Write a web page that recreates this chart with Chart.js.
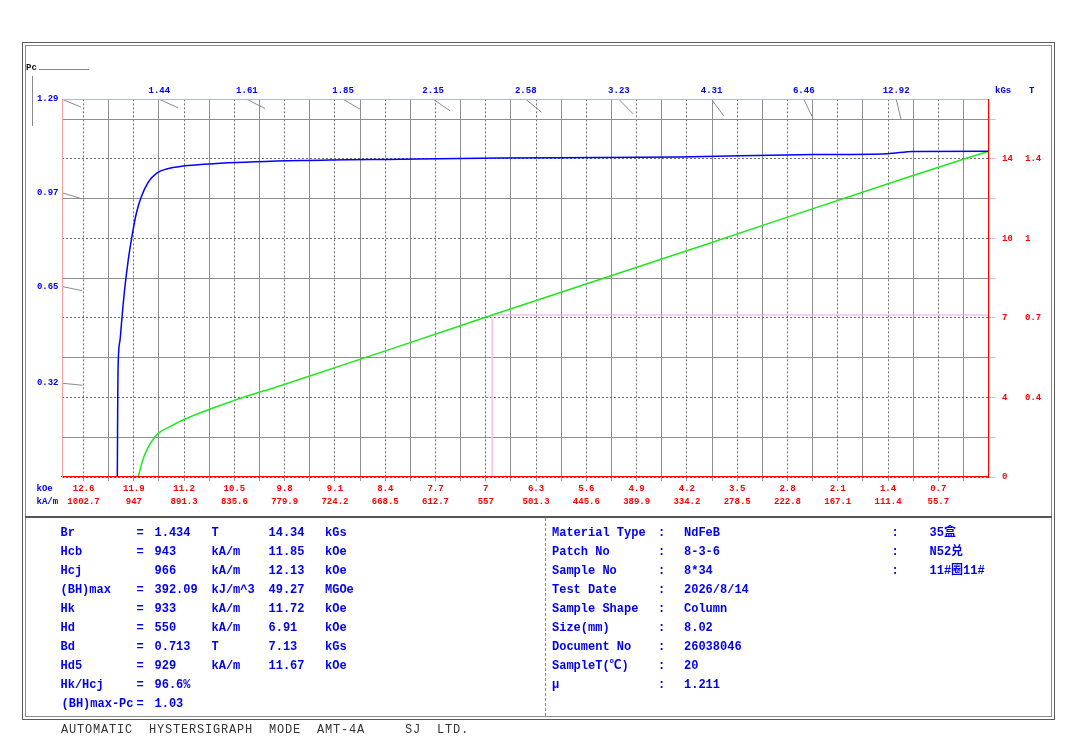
<!DOCTYPE html>
<html><head><meta charset="utf-8">
<script src="https://cdn.jsdelivr.net/npm/chart.js@4.4.1/dist/chart.umd.min.js"></script>
<style>
html,body{margin:0;padding:0;background:#fff;}
#wrap{position:relative;width:1084px;height:739px;overflow:hidden;background:#fff;}
#c{position:absolute;left:0;top:0;}
.t{position:absolute;font-family:"Liberation Mono","Noto Sans CJK SC",monospace;font-weight:bold;font-size:12px;color:#0000f0;white-space:pre;line-height:14px;height:14px;}
.s{position:absolute;font-family:"Liberation Mono",monospace;font-weight:bold;font-size:9px;white-space:pre;line-height:11px;}
.ln{position:absolute;}
</style></head><body>
<div id="wrap">
  <canvas id="c" width="1084" height="739"></canvas>
  <!-- frame -->
  <div class="ln" style="left:22px;top:42px;width:1031px;height:676px;border:1px solid #5a5a5a"></div>
  <div class="ln" style="left:25px;top:45px;width:1025px;height:670px;border:1px solid #8a8a8a"></div>
  <div class="ln" style="left:25px;top:515.5px;width:1027px;height:2px;background:#555"></div>
  <div class="ln" style="left:544.5px;top:518px;width:0;height:198px;border-left:1px dashed #888"></div>
  <!-- Pc header -->
  <div class="s" style="left:26px;top:62.5px;color:#111">Pc</div>
  <div class="ln" style="left:39px;top:69px;width:50px;height:1px;background:#888"></div>
  <div class="ln" style="left:32px;top:76px;width:1px;height:50px;background:#888"></div>
  <!-- axis unit labels -->
  <div class="s" style="left:36.5px;top:483.5px;color:#0000f0">kOe</div>
  <div class="s" style="left:36.5px;top:496.5px;color:#0000f0">kA/m</div>
  <div class="s" style="left:995px;top:85.5px;color:#0000f0">kGs</div>
  <div class="s" style="left:1029px;top:85.5px;color:#0000f0">T</div>

  <!-- left table -->
  <div class="t" style="left:60.5px;top:526px">Br</div>
  <div class="t" style="left:136.4px;top:526px">=</div>
  <div class="t" style="left:154.5px;top:526px">1.434</div>
  <div class="t" style="left:211.5px;top:526px">T</div>
  <div class="t" style="left:268.5px;top:526px">14.34</div>
  <div class="t" style="left:325px;top:526px">kGs</div>

  <div class="t" style="left:60.5px;top:545px">Hcb</div>
  <div class="t" style="left:136.4px;top:545px">=</div>
  <div class="t" style="left:154.5px;top:545px">943</div>
  <div class="t" style="left:211.5px;top:545px">kA/m</div>
  <div class="t" style="left:268.5px;top:545px">11.85</div>
  <div class="t" style="left:325px;top:545px">kOe</div>

  <div class="t" style="left:60.5px;top:564px">Hcj</div>
  <div class="t" style="left:154.5px;top:564px">966</div>
  <div class="t" style="left:211.5px;top:564px">kA/m</div>
  <div class="t" style="left:268.5px;top:564px">12.13</div>
  <div class="t" style="left:325px;top:564px">kOe</div>

  <div class="t" style="left:60.5px;top:583px">(BH)max</div>
  <div class="t" style="left:136.4px;top:583px">=</div>
  <div class="t" style="left:154.5px;top:583px">392.09</div>
  <div class="t" style="left:211.5px;top:583px">kJ/m^3</div>
  <div class="t" style="left:268.5px;top:583px">49.27</div>
  <div class="t" style="left:325px;top:583px">MGOe</div>

  <div class="t" style="left:60.5px;top:602px">Hk</div>
  <div class="t" style="left:136.4px;top:602px">=</div>
  <div class="t" style="left:154.5px;top:602px">933</div>
  <div class="t" style="left:211.5px;top:602px">kA/m</div>
  <div class="t" style="left:268.5px;top:602px">11.72</div>
  <div class="t" style="left:325px;top:602px">kOe</div>

  <div class="t" style="left:60.5px;top:621px">Hd</div>
  <div class="t" style="left:136.4px;top:621px">=</div>
  <div class="t" style="left:154.5px;top:621px">550</div>
  <div class="t" style="left:211.5px;top:621px">kA/m</div>
  <div class="t" style="left:268.5px;top:621px">6.91</div>
  <div class="t" style="left:325px;top:621px">kOe</div>

  <div class="t" style="left:60.5px;top:640px">Bd</div>
  <div class="t" style="left:136.4px;top:640px">=</div>
  <div class="t" style="left:154.5px;top:640px">0.713</div>
  <div class="t" style="left:211.5px;top:640px">T</div>
  <div class="t" style="left:268.5px;top:640px">7.13</div>
  <div class="t" style="left:325px;top:640px">kGs</div>

  <div class="t" style="left:60.5px;top:659px">Hd5</div>
  <div class="t" style="left:136.4px;top:659px">=</div>
  <div class="t" style="left:154.5px;top:659px">929</div>
  <div class="t" style="left:211.5px;top:659px">kA/m</div>
  <div class="t" style="left:268.5px;top:659px">11.67</div>
  <div class="t" style="left:325px;top:659px">kOe</div>

  <div class="t" style="left:60.5px;top:678px">Hk/Hcj</div>
  <div class="t" style="left:136.4px;top:678px">=</div>
  <div class="t" style="left:154.5px;top:678px">96.6%</div>

  <div class="t" style="left:61.5px;top:697px">(BH)max-Pc</div>
  <div class="t" style="left:136.4px;top:697px">=</div>
  <div class="t" style="left:154.5px;top:697px">1.03</div>

  <!-- right table -->
  <div class="t" style="left:552px;top:526px">Material Type</div>
  <div class="t" style="left:658px;top:526px">:</div>
  <div class="t" style="left:684px;top:526px">NdFeB</div>
  <div class="t" style="left:891.5px;top:526px">:</div>
  <div class="t" style="left:929.5px;top:526px">35盒</div>

  <div class="t" style="left:552px;top:545px">Patch No</div>
  <div class="t" style="left:658px;top:545px">:</div>
  <div class="t" style="left:684px;top:545px">8-3-6</div>
  <div class="t" style="left:891.5px;top:545px">:</div>
  <div class="t" style="left:929.5px;top:545px">N52兑</div>

  <div class="t" style="left:552px;top:564px">Sample No</div>
  <div class="t" style="left:658px;top:564px">:</div>
  <div class="t" style="left:684px;top:564px">8*34</div>
  <div class="t" style="left:891.5px;top:564px">:</div>
  <div class="t" style="left:929.5px;top:564px">11#圈11#</div>

  <div class="t" style="left:552px;top:583px">Test Date</div>
  <div class="t" style="left:658px;top:583px">:</div>
  <div class="t" style="left:684px;top:583px">2026/8/14</div>

  <div class="t" style="left:552px;top:602px">Sample Shape</div>
  <div class="t" style="left:658px;top:602px">:</div>
  <div class="t" style="left:684px;top:602px">Column</div>

  <div class="t" style="left:552px;top:621px">Size(mm)</div>
  <div class="t" style="left:658px;top:621px">:</div>
  <div class="t" style="left:684px;top:621px">8.02</div>

  <div class="t" style="left:552px;top:640px">Document No</div>
  <div class="t" style="left:658px;top:640px">:</div>
  <div class="t" style="left:684px;top:640px">26038046</div>

  <div class="t" style="left:552px;top:659px">SampleT(℃)</div>
  <div class="t" style="left:658px;top:659px">:</div>
  <div class="t" style="left:684px;top:659px">20</div>

  <div class="t" style="left:552px;top:678px">μ</div>
  <div class="t" style="left:658px;top:678px">:</div>
  <div class="t" style="left:684px;top:678px">1.211</div>

  <!-- footer -->
  <div style="position:absolute;left:61px;top:723px;font-family:'Liberation Mono',monospace;font-size:12px;letter-spacing:0.8px;color:#333;white-space:pre;line-height:14px">AUTOMATIC  HYSTERSIGRAPH  MODE  AMT-4A     SJ  LTD.</div>
</div>
<script>
// ---------- data ----------
const kOeLabels = ['12.6','11.9','11.2','10.5','9.8','9.1','8.4','7.7','7','6.3','5.6','4.9','4.2','3.5','2.8','2.1','1.4','0.7'];
const kAmLabels = ['1002.7','947','891.3','835.6','779.9','724.2','668.5','612.7','557','501.3','445.6','389.9','334.2','278.5','222.8','167.1','111.4','55.7'];
const kGsTickValues = [0, 3.5, 7, 10.5, 14];
const kGsLabels = ['0','4','7','10','14'];
const teslaLabels = ['','0.4','0.7','1','1.4'];
const pcTopLabels = ['1.44','1.61','1.85','2.15','2.58','3.23','4.31','6.46','12.92'];
const pcLeftLabels = ['1.29','0.97','0.65','0.32'];

// intrinsic curve J(H)  (H kOe, J kGs)
const H_J = [12.13,12.124,12.12,12.092,12.068,12.029,11.978,11.925,11.864,11.797,11.699,11.581,11.442,11.212,10.976,10.70,9.58,8.19,6.80,5.41,4.30,2.44,1.41,1.05,0];
const B_J = [0,3.39,4.75,6.03,6.91,8.23,9.55,10.61,11.62,12.32,12.98,13.38,13.56,13.69,13.75,13.81,13.93,13.99,14.04,14.06,14.09,14.19,14.23,14.33,14.34];
// normal curve B(H)
const H_B = [11.84,11.76,11.67,11.56,11.39,11.21,10.51,9.86,8.19,6.91,4.00,1.19,0];
const B_B = [0,0.89,1.48,1.92,2.23,2.52,3.36,4.02,5.77,7.13,10.17,13.13,14.34];
// (BH)max working point Hd / Bd
const H_D = [6.91,6.91,0];
const B_D = [0,7.13,7.13];

const H_MAX = 12.9, B_MAX = 16.625;

const pts = (hs, bs) => hs.map((h,i)=>({x:h, y:bs[i]}));
const xMajor = kOeLabels.map(Number);
const xMinor = xMajor.map(v => +(v - 0.35).toFixed(2));
const yMinor = kGsTickValues.map(v => v + 1.75);
const near = (a,b) => Math.abs(a-b) < 1e-6;
const isXMajor = v => xMajor.some(m => near(m,v));
const isYMajor = v => kGsTickValues.some(m => near(m,v));

const FONT = '"Liberation Mono", monospace';
const BLUE = '#0000f0', RED = '#ff0000', PINK = '#f4a0a0';

const pcSegments = {
  id: 'pcSegments',
  afterDatasetsDraw(chart) {
    const {ctx} = chart; const sx = chart.scales.x, sy = chart.scales.y;
    const ox = sx.getPixelForValue(0), oy = sy.getPixelForValue(0);
    const p = [];
    pcTopLabels.forEach(v => p.push([sx.getPixelForValue(B_MAX/Number(v)), sy.getPixelForValue(B_MAX)]));
    pcLeftLabels.forEach(v => p.push([sx.getPixelForValue(H_MAX), sy.getPixelForValue(Math.min(B_MAX, Number(v)*H_MAX))]));
    ctx.save(); ctx.strokeStyle = '#8a8a8a'; ctx.lineWidth = 1;
    p.forEach(([px,py]) => {
      const dx = ox-px, dy = oy-py, L = Math.hypot(dx,dy);
      ctx.beginPath(); ctx.moveTo(px,py); ctx.lineTo(px+dx/L*20.5, py+dy/L*20.5); ctx.stroke();
    });
    ctx.restore();
  }
};

new Chart(document.getElementById('c'), {
  type: 'line',
  data: {
    datasets: [
      {label:'J', data: pts(H_J,B_J), borderColor:'#0000ff', borderWidth:1.5, pointRadius:0, cubicInterpolationMode:'monotone', xAxisID:'x', yAxisID:'y'},
      {label:'B', data: pts(H_B,B_B), borderColor:'#1ee81e', borderWidth:1.5, pointRadius:0, cubicInterpolationMode:'monotone', xAxisID:'x', yAxisID:'y'},
      {label:'Pd', data: pts(H_D,B_D), borderColor:'#eeaaee', borderWidth:1.5, pointRadius:0, tension:0, xAxisID:'x', yAxisID:'y',
        segment:{borderColor: c => c.p0DataIndex===0 ? '#f8c8f2' : '#e8a4ea', borderWidth: c => c.p0DataIndex===0 ? 2 : 1.2}}
    ]
  },
  options: {
    responsive:false, animation:false, events:[],
    layout:{padding:{left:22, top:79.3, right:41.4, bottom:232}},
    plugins:{legend:{display:false}, tooltip:{enabled:false}},
    scales: {
      x: {
        type:'linear', position:'bottom', reverse:true, min:0, max:H_MAX,
        afterBuildTicks: s => { s.ticks = xMajor.concat(xMinor).sort((a,b)=>b-a).map(v=>({value:v})); },
        afterFit: s => { s.height = 30; },
        ticks: {
          autoSkip:false, maxRotation:0, minRotation:0, padding:1.5, color:RED,
          font:{family:FONT, size:9, weight:'bold', lineHeight:'13px'},
          callback: v => { const i = xMajor.findIndex(m=>near(m,v)); return i<0 ? '' : [kOeLabels[i], kAmLabels[i]]; }
        },
        grid: {
          color: c => (c.tick && isXMajor(c.tick.value)) ? '#6e6e6e' : '#8e8e8e',
          lineWidth:1, tickLength:4, tickColor:'#9a9a9a', tickBorderDash:[]
        },
        border: {display:true, color:RED, width:1.2, z:1, dash: c => (c.tick && isXMajor(c.tick.value)) ? [2,2] : []}
      },
      xTop: {
        type:'linear', position:'top', reverse:true, min:0, max:H_MAX,
        afterBuildTicks: s => { s.ticks = pcTopLabels.map(v => ({value: B_MAX/Number(v)})); },
        afterFit: s => { s.height = 20; },
        ticks: {autoSkip:false, maxRotation:0, minRotation:0, padding:2.8, color:BLUE,
          font:{family:FONT, size:9, weight:'bold', lineHeight:'11px'},
          callback: (v,i) => pcTopLabels[i]},
        grid:{display:false, drawTicks:false},
        border:{display:true, color:PINK, width:1, z:1}
      },
      yLeft: {
        type:'linear', position:'left', min:0, max:B_MAX,
        afterBuildTicks: s => { s.ticks = pcLeftLabels.map(v => ({value: Number(v)*H_MAX})); },
        afterFit: s => { s.width = 40; },
        ticks: {autoSkip:false, padding:3.5, color:BLUE,
          font:{family:FONT, size:9, weight:'bold', lineHeight:'11px'},
          callback: (v,i) => pcLeftLabels[i]},
        grid:{display:false, drawTicks:false},
        border:{display:true, color:PINK, width:1, z:1}
      },
      y: {
        type:'linear', position:'right', weight:0, min:0, max:B_MAX,
        afterBuildTicks: s => { s.ticks = kGsTickValues.concat(yMinor).sort((a,b)=>a-b).map(v=>({value:v})); },
        afterFit: s => { s.width = 24; },
        ticks: {autoSkip:false, padding:6.4, color:RED,
          font:{family:FONT, size:9, weight:'bold', lineHeight:'11px'},
          callback: v => { const i = kGsTickValues.findIndex(m=>near(m,v)); return i<0 ? '' : kGsLabels[i]; }},
        grid: {
          color: c => (c.tick && isYMajor(c.tick.value)) ? '#6e6e6e' : '#8e8e8e',
          lineWidth:1, tickLength:7, tickColor:'#f6b4b4', tickBorderDash:[]
        },
        border: {display:true, color:RED, width:1.2, z:1, dash: c => (c.tick && isYMajor(c.tick.value)) ? [2,2] : []}
      },
      y2: {
        type:'linear', position:'right', weight:1, min:0, max:B_MAX,
        afterBuildTicks: s => { s.ticks = kGsTickValues.map(v=>({value:v})); },
        afterFit: s => { s.width = 30; },
        ticks: {autoSkip:false, padding:12.4, color:RED,
          font:{family:FONT, size:9, weight:'bold', lineHeight:'11px'},
          callback: (v,i) => teslaLabels[i]},
        grid:{display:false, drawTicks:false},
        border:{display:false}
      }
    }
  },
  plugins:[pcSegments]
});
</script>
</body></html>
